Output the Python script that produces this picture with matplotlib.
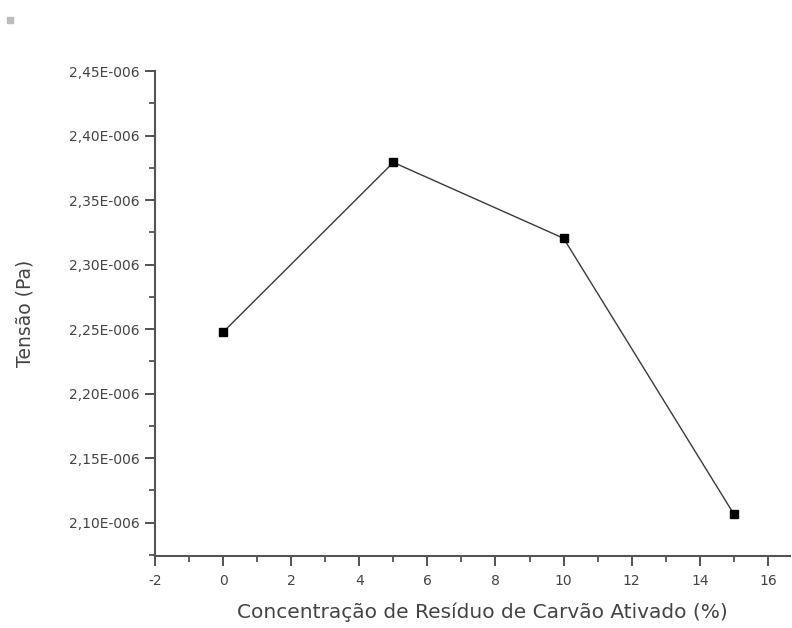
import matplotlib
matplotlib.use('Agg')
import matplotlib.pyplot as plt
from matplotlib.ticker import MultipleLocator, FuncFormatter
from matplotlib.patches import Rectangle

plt.rcParams['font.family'] = ['DejaVu Sans']

# data
concentracao = [0, 5, 10, 15]
tensao = [2.2477e-6, 2.3792e-6, 2.3204e-6, 2.1067e-6]

x_ticks = [-2, 0, 2, 4, 6, 8, 10, 12, 14, 16]
y_ticks = [2.10e-6, 2.15e-6, 2.20e-6, 2.25e-6, 2.30e-6, 2.35e-6, 2.40e-6, 2.45e-6]

fig = plt.figure(figsize=(7.92, 6.28), dpi=100)
ax = fig.add_axes([0.1957, 0.1146, 0.8018, 0.7723])

ax.plot(concentracao, tensao, color='#3a3a3a', linewidth=1.0,
        marker='s', markersize=5.5, markerfacecolor='black',
        markeredgecolor='black')

ax.set_xlim(-2, 16.65)
ax.set_ylim(2.0742e-6, 2.45e-6)
ax.set_xticks(x_ticks)
ax.set_yticks(y_ticks)
ax.xaxis.set_minor_locator(MultipleLocator(1))
ax.yaxis.set_minor_locator(MultipleLocator(0.025e-6))

def fmt_y(v, pos):
    return ('%.2f' % (v * 1e6)).replace('.', ',') + 'E-006'

ax.yaxis.set_major_formatter(FuncFormatter(fmt_y))
ax.xaxis.set_major_formatter(FuncFormatter(lambda v, p: '%d' % v))

for s in ['top', 'right']:
    ax.spines[s].set_visible(False)
for s in ['left', 'bottom']:
    ax.spines[s].set_color('#555555')
    ax.spines[s].set_linewidth(1.5)

ax.tick_params(which='major', direction='out', length=7, width=1.3,
               color='#444444', labelsize=10, labelcolor='#444444')
ax.tick_params(axis='x', which='major', pad=6)
ax.tick_params(axis='y', which='major', pad=4)
ax.tick_params(which='minor', direction='out', length=4.5, width=1.2,
               color='#444444')

ax.set_xlabel('Concentração de Resíduo de Carvão Ativado (%)', fontsize=14.5,
              color='#444444')
ax.set_ylabel('Tensão (Pa)', fontsize=13.5, color='#444444')
ax.xaxis.set_label_coords(0.516, -0.095)
ax.yaxis.set_label_coords(-0.19, 0.5)

# small legend artifact in the top left corner
fig.patches.append(Rectangle((7 / 792, 1 - 23 / 628), 6 / 792, 6 / 628,
                             transform=fig.transFigure, color='#bbbbbb'))

fig.savefig('out.png', dpi=100, facecolor='white')
